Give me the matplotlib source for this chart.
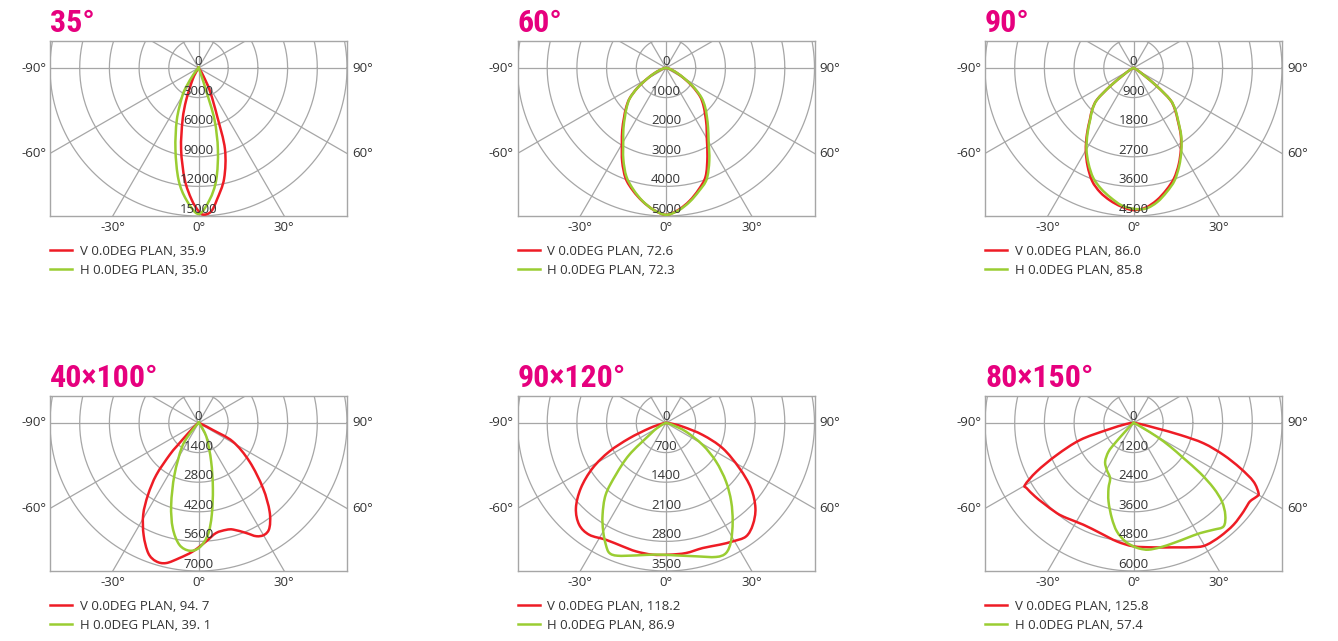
import numpy as np
import matplotlib
matplotlib.use("Agg")
import matplotlib.pyplot as plt
from matplotlib.path import Path
from matplotlib.patches import PathPatch
from matplotlib.lines import Line2D

plt.rcParams['font.family'] = ['Open Sans', 'DejaVu Sans']

# ---------------- data ----------------
titles = ["35°", "60°", "90°", "40×100°", "90×120°", "80×150°"]
ring_max = [15000, 5000, 4500, 7000, 3500, 6000]
v_labels = ["V 0.0DEG PLAN, 35.9", "V 0.0DEG PLAN, 72.6", "V 0.0DEG PLAN, 86.0",
            "V 0.0DEG PLAN, 94. 7", "V 0.0DEG PLAN, 118.2", "V 0.0DEG PLAN, 125.8"]
h_labels = ["H 0.0DEG PLAN, 35.0", "H 0.0DEG PLAN, 72.3", "H 0.0DEG PLAN, 85.8",
            "H 0.0DEG PLAN, 39. 1", "H 0.0DEG PLAN, 86.9", "H 0.0DEG PLAN, 57.4"]
angle_ticks_side = [-90, -60]
angle_ticks_bottom = [-30, 0, 30]

# panel 1 (35°)
p1_v_ang = [-90, -40, -32, -27, -21, -17, -12, -7, -3, 0, 2, 5, 8, 13, 18, 21, 26, 31, 36, 45, 90]
p1_v_val = [0, 0, 300, 1300, 3450, 5500, 8450, 11400, 13350, 14500, 14870, 14600, 13450, 11500,
            8650, 5300, 2700, 1000, 300, 0, 0]
p1_h_ang = [-90, -45, -38, -33, -29.7, -22.6, -15.7, -10.1, -5.3, 0, 4.8, 9, 13.3, 17.1, 18.5,
            20, 25, 30, 90]
p1_h_val = [0, 0, 800, 2300, 3340, 5700, 8600, 11500, 13400, 14800, 13400, 11460, 8520, 5500,
            2500, 1000, 200, 0, 0]

# panel 2 (60°)
p2_ang = [-90, -80, -70, -65, -60, -55, -50, -45, -40, -35, -30, -25, -20, -15, -10, -5, 0,
          5, 10, 15, 20, 25, 30, 35, 40, 45, 50, 55, 60, 65, 70, 80, 90]
p2_v_val = [0, 80, 250, 450, 750, 1180, 1600, 1900, 2200, 2570, 2970, 3490, 3970, 4290, 4570,
            4810, 4960, 4810, 4560, 4250, 3900, 3300, 2750, 2380, 2050, 1780, 1500, 1100, 700,
            420, 240, 80, 0]
p2_h_val = [0, 80, 250, 450, 750, 1180, 1590, 1870, 2150, 2500, 2880, 3400, 3900, 4250, 4560,
            4810, 4960, 4830, 4590, 4300, 4000, 3450, 2870, 2470, 2140, 1860, 1560, 1150, 730,
            440, 250, 80, 0]

# panel 3 (90°)
p3_ang = [-90, -70, -60, -55, -52, -49, -45, -40, -35, -30, -25, -20, -15, -10, -5, 0,
          5, 10, 15, 20, 25, 30, 35, 40, 45, 49, 52, 55, 60, 70, 90]
p3_v_val = [0, 40, 150, 400, 900, 1460, 1760, 2060, 2460, 2890, 3290, 3660, 3910, 4090, 4230,
            4320, 4260, 4080, 3840, 3580, 3240, 2870, 2500, 2090, 1770, 1470, 900, 400, 150, 40, 0]
p3_h_val = [0, 40, 150, 400, 900, 1450, 1750, 2040, 2430, 2850, 3220, 3560, 3800, 4000, 4190,
            4280, 4290, 4140, 3900, 3640, 3280, 2900, 2520, 2110, 1790, 1480, 910, 400, 150, 40, 0]

# panel 4 (40×100°)
p4_v_ang = [-90, -60, -50, -45, -43, -42, -39, -35, -31, -26, -21, -17, -13, -8, -2.5, 3.7,
            9, 14.5, 18, 23.4, 27, 30.5, 34, 38.7, 44.6, 52.8, 61.5, 64, 67, 75, 90]
p4_v_val = [0, 50, 200, 700, 1500, 2050, 3160, 4150, 5060, 5900, 6600, 6840, 6800, 6450, 6080,
            5610, 5270, 5220, 5300, 5670, 6010, 6130, 5980, 5360, 4330, 3020, 1840, 750, 300,
            80, 0]
p4_h_ang = [-90, -50, -40, -34.6, -24.8, -18.4, -13.7, -8.9, -4, 0.5, 4.8, 8.2, 12.4, 18.1,
            28.5, 40, 50, 90]
p4_h_val = [0, 0, 500, 1356, 2700, 4080, 5120, 5830, 6055, 5885, 5305, 4390, 3157, 1920, 823,
            200, 0, 0]

# panel 5 (90×120°)
p5_v_ang = [-90, -80, -72.3, -67.3, -63.2, -58.3, -52.5, -46.5, -40.4, -34.4, -27.1, -19.3,
            -13.1, -5.8, 1.4, 8.7, 16.3, 23.6, 29.3, 35.1, 40.4, 46.3, 52.4, 58.3, 65.9, 71.9,
            77.6, 85, 90]
p5_v_val = [0, 100, 413, 937, 1498, 2034, 2530, 2927, 3158, 3203, 3103, 3092, 3117, 3130, 3115,
            3111, 3081, 3142, 3211, 3280, 3158, 2915, 2530, 2034, 1464, 910, 403, 100, 0]
p5_h_ang = [-90, -70, -60, -54, -49, -44, -40, -34.5, -30, -26.2, -23.5, -20, -12.7, -4.3, 4.3,
            12.6, 20.4, 24.7, 28.7, 34, 39.6, 45.6, 52.3, 59, 66.6, 73, 80, 90]
p5_h_val = [0, 60, 250, 490, 1150, 1700, 2210, 2640, 2960, 3210, 3350, 3340, 3210, 3120, 3140,
            3230, 3380, 3385, 3190, 2810, 2410, 1980, 1490, 1010, 510, 165, 50, 0]

# panel 6 (80×150°)
p6_v_ang = [-90, -82, -75.3, -72.3, -67.3, -63.3, -60.2, -58.5, -53.2, -48.2, -40.3, -35,
            -26.1, -16.8, -8, 0, 9.1, 17.8, 27, 31, 37.3, 44.4, 51.1, 55.1, 57, 59.2, 60.6,
            63.9, 67, 70.4, 73.8, 75.6, 77.1, 81.5, 90]
p6_v_val = [0, 300, 1115, 2265, 3360, 4380, 5050, 5060, 4970, 4880, 4790, 4705, 4594, 4660,
            4846, 5000, 5106, 5295, 5643, 5756, 5780, 5776, 5714, 5673, 5709, 5810, 5800, 5400,
            4690, 3860, 2950, 1950, 970, 270, 0]
p6_h_ang = [-90, -60, -50, -44, -42.5, -41, -36.2, -29.6, -22.9, -20.9, -17.6, -12.8, -8.7, -4,
            0, 3, 6.7, 12.1, 18.4, 24.8, 31.1, 36.8, 41, 44.9, 48.3, 50.8, 53, 54.8, 57.2, 59.6,
            61.9, 70, 90]
p6_h_val = [0, 0, 100, 500, 1100, 1540, 1940, 2185, 2431, 2829, 3338, 3954, 4446, 4811, 5001,
            5103, 5171, 5156, 5128, 5136, 5213, 5403, 5551, 5252, 4784, 4177, 3378, 2476, 1766,
            1093, 458, 100, 0]

v_series = [(p1_v_ang, p1_v_val), (p2_ang, p2_v_val), (p3_ang, p3_v_val),
            (p4_v_ang, p4_v_val), (p5_v_ang, p5_v_val), (p6_v_ang, p6_v_val)]
h_series = [(p1_h_ang, p1_h_val), (p2_ang, p2_h_val), (p3_ang, p3_h_val),
            (p4_h_ang, p4_h_val), (p5_h_ang, p5_h_val), (p6_h_ang, p6_h_val)]

# ---------------- style ----------------
RED = "#EE1C25"
GREEN = "#9ACD32"
MAGENTA = "#E6007E"
GRID = "#A6A6A6"
TXT = "#333333"
LW = 1.8

W, H = 1338, 641
fig = plt.figure(figsize=(W / 100, H / 100), dpi=100)

box_left = [50, 517.5, 985]
box_top = [41, 396]
box_w, box_h = 297, 175
top_frac = 27 / 148.0


def polar_xy(ang, val):
    a = np.deg2rad(np.asarray(ang, dtype=float))
    v = np.asarray(val, dtype=float)
    return v * np.sin(a), -v * np.cos(a)


def smooth_path(x, y):
    """Bezier path passing through every data point (Catmull-Rom rendering)."""
    P = np.column_stack([x, y])
    n = len(P)
    verts = [P[0]]
    codes = [Path.MOVETO]
    for k in range(n - 1):
        p0 = P[k - 1] if k > 0 else P[k]
        p1 = P[k]
        p2 = P[k + 1]
        p3 = P[k + 2] if k + 2 < n else P[k + 1]
        c1 = p1 + (p2 - p0) / 6.0
        c2 = p2 - (p3 - p1) / 6.0
        verts += [c1, c2, p2]
        codes += [Path.CURVE4] * 3
    return Path(np.array(verts), codes)


for i in range(6):
    r, c = divmod(i, 3)
    L = box_left[c]
    T = box_top[r]
    ax = fig.add_axes([L / W, 1 - (T + box_h) / H, box_w / W, box_h / H])
    R = ring_max[i]
    ax.set_xlim(-R, R)
    ax.set_ylim(-R, R * top_frac)
    ax.set_aspect('auto')
    ax.set_xticks([])
    ax.set_yticks([])
    for s in ax.spines.values():
        s.set_color(GRID)
        s.set_linewidth(1.0)

    # rings
    t = np.linspace(0, 2 * np.pi, 361)
    for k in range(1, 6):
        rr = R * k / 5
        ax.plot(rr * np.cos(t), rr * np.sin(t), color=GRID, lw=0.9, zorder=1)
    # spokes every 30°
    for a in range(0, 180, 30):
        ar = np.deg2rad(a)
        ax.plot([-2 * R * np.sin(ar), 2 * R * np.sin(ar)],
                [2 * R * np.cos(ar), -2 * R * np.cos(ar)], color=GRID, lw=0.9, zorder=1)

    # curves
    vx, vy = polar_xy(*v_series[i])
    hx, hy = polar_xy(*h_series[i])
    ax.add_patch(PathPatch(smooth_path(vx, vy), fill=False, edgecolor=RED, lw=LW,
                           zorder=3, joinstyle='round', capstyle='round'))
    ax.add_patch(PathPatch(smooth_path(hx, hy), fill=False, edgecolor=GREEN, lw=LW,
                           zorder=3.5, joinstyle='round', capstyle='round'))
    lv = Line2D([], [], color=RED, lw=LW)
    lh = Line2D([], [], color=GREEN, lw=LW)

    # ring labels
    for k in range(0, 6):
        ax.text(0, -R * k / 5, f"{int(R * k / 5)}", ha='center', va='bottom',
                fontsize=9.5, color=TXT, zorder=5)

    # angle labels
    for a in angle_ticks_side:
        yy = -R * np.tan(np.deg2rad(90 + a))
        ax.annotate(f"{a}°", xy=(-R, yy), xytext=(-4, 0), textcoords='offset pixels',
                    ha='right', va='center', fontsize=9.5, color=TXT, annotation_clip=False)
        ax.annotate(f"{-a}°", xy=(R, yy), xytext=(5, 0), textcoords='offset pixels',
                    ha='left', va='center', fontsize=9.5, color=TXT, annotation_clip=False)
    for a in angle_ticks_bottom:
        xx = R * np.tan(np.deg2rad(a))
        ax.annotate(f"{a}°", xy=(xx, -R), xytext=(0, -5), textcoords='offset pixels',
                    ha='center', va='top', fontsize=9.5, color=TXT, annotation_clip=False)

    # legend
    ax.legend([lv, lh], [v_labels[i], h_labels[i]], loc='upper left',
              bbox_to_anchor=(0, -0.165), frameon=False, fontsize=9.5,
              handlelength=1.7, handletextpad=0.55, labelspacing=0.45,
              borderpad=0, borderaxespad=0, labelcolor=TXT)

    # title
    fig.text(L / W, 1 - (T - 9) / H, titles[i], ha='left', va='baseline',
             fontsize=23, fontweight='bold', color=MAGENTA,
             family=['Roboto Condensed', 'DejaVu Sans'])

fig.savefig("out.png", dpi=100)
